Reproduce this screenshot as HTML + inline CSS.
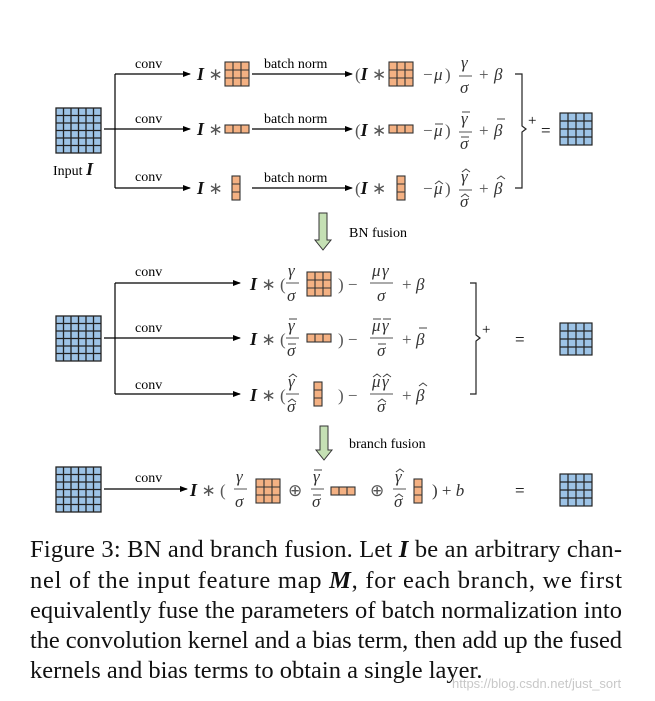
<!DOCTYPE html>
<html><head><meta charset="utf-8"><style>
html,body{margin:0;padding:0;background:#fff;}
svg{display:block;font-family:"Liberation Serif",serif;}
.t{font-size:14px;fill:#000}
.m{font-size:17px;fill:#333;font-style:italic}
.g{font-size:17px;fill:#555}
.b{font-size:18px;font-weight:bold;font-style:italic;fill:#111}
.c{font-size:24.5px;fill:#111}
.a{stroke:#444;stroke-width:1;fill:none}
</style></head><body>
<svg width="655" height="701" viewBox="0 0 655 701" xmlns="http://www.w3.org/2000/svg">
<defs>
<marker id="ar" markerWidth="8" markerHeight="8" refX="7" refY="4" orient="auto" markerUnits="userSpaceOnUse"><path d="M0,1 L8,4 L0,7 Z" fill="#000"/></marker>
<g id="g6"><rect x="0" y="0" width="45" height="45" fill="#9dc3e6" stroke="#222" stroke-width="1.3"/><path d="M7.5,0V45M15,0V45M22.5,0V45M30,0V45M37.5,0V45M0,7.5H45M0,15H45M0,22.5H45M0,30H45M0,37.5H45" stroke="#222" stroke-width="1.3"/></g>
<g id="g4"><rect x="0" y="0" width="32" height="32" fill="#9dc3e6" stroke="#222" stroke-width="1.2"/><path d="M8,0V32M16,0V32M24,0V32M0,8H32M0,16H32M0,24H32" stroke="#222" stroke-width="1.2"/></g>
<g id="k33"><rect x="0" y="0" width="24" height="24" fill="#f4b183" stroke="#333" stroke-width="1.1"/><path d="M8,0V24M16,0V24M0,8H24M0,16H24" stroke="#333" stroke-width="1.1"/></g>
<g id="k13"><rect x="0" y="0" width="24" height="8" fill="#f4b183" stroke="#333" stroke-width="1.1"/><path d="M8,0V8M16,0V8" stroke="#333" stroke-width="1.1"/></g>
<g id="k31"><rect x="0" y="0" width="8" height="24" fill="#f4b183" stroke="#333" stroke-width="1.1"/><path d="M0,8H8M0,16H8" stroke="#333" stroke-width="1.1"/></g>
</defs>

<!-- TOP SECTION -->
<use href="#g6" x="56" y="108"/>
<text class="t" x="53" y="175" font-size="15">Input <tspan class="b">I</tspan></text>
<g stroke="#000" stroke-width="1.2" fill="none">
<path d="M115,74V188"/>
<path d="M115,74H190" marker-end="url(#ar)"/>
<path d="M104,129H190" marker-end="url(#ar)"/>
<path d="M115,188H190" marker-end="url(#ar)"/>
<path d="M252,74H352" marker-end="url(#ar)"/>
<path d="M252,129H352" marker-end="url(#ar)"/>
<path d="M252,188H352" marker-end="url(#ar)"/>
</g>
<text class="t" x="135" y="68">conv</text>
<text class="t" x="135" y="123">conv</text>
<text class="t" x="135" y="181">conv</text>
<text class="t" x="264" y="68">batch norm</text>
<text class="t" x="264" y="123">batch norm</text>
<text class="t" x="264" y="182">batch norm</text>

<text class="b" x="197" y="80">I <tspan class="g" font-weight="normal" font-style="normal">∗</tspan></text>
<use href="#k33" x="225" y="62"/>
<text class="b" x="197" y="135">I <tspan class="g" font-weight="normal" font-style="normal">∗</tspan></text>
<use href="#k13" x="225" y="125"/>
<text class="b" x="197" y="194">I <tspan class="g" font-weight="normal" font-style="normal">∗</tspan></text>
<use href="#k31" x="232" y="176"/>

<!-- row1 formula -->
<text class="g" x="355" y="80">(<tspan class="b">I</tspan> ∗</text>
<use href="#k33" x="389" y="62"/>
<text class="g" x="423" y="80">−</text><text class="m" x="434" y="80">μ</text><text class="g" x="445" y="80">)</text>
<text class="m" x="461" y="68">γ</text><path d="M459,76H472" stroke="#555"/><text class="m" x="460" y="93">σ</text>
<text class="g" x="479" y="80">+</text><text class="m" x="494" y="80">β</text>
<!-- row2 -->
<text class="g" x="355" y="136">(<tspan class="b">I</tspan> ∗</text>
<use href="#k13" x="389" y="125"/>
<text class="g" x="423" y="136">−</text><text class="m" x="434" y="136">μ</text><text class="g" x="445" y="136">)</text>
<text class="m" x="461" y="124">γ</text><path d="M459,132H472" stroke="#555"/><text class="m" x="460" y="149">σ</text>
<text class="g" x="479" y="136">+</text><text class="m" x="494" y="136">β</text>
<path class="a" d="M435,124h8M462,112h8M461,137h8M497,119h8"/>
<!-- row3 -->
<text class="g" x="355" y="194">(<tspan class="b">I</tspan> ∗</text>
<use href="#k31" x="397" y="176"/>
<text class="g" x="423" y="194">−</text><text class="m" x="434" y="194">μ</text><text class="g" x="445" y="194">)</text>
<text class="m" x="461" y="182">γ</text><path d="M459,190H472" stroke="#555"/><text class="m" x="460" y="207">σ</text>
<text class="g" x="479" y="194">+</text><text class="m" x="494" y="194">β</text>
<path class="a" d="M435,184l4,-3l4,3M462,172l4,-3l4,3M461,197l4,-3l4,3M497,179l4,-3l4,3"/>
<path d="M515,74H522V126L526,129L522,132V188H515" fill="none" stroke="#222" stroke-width="1.2"/>
<text x="528" y="125" font-size="15" fill="#000">+</text>
<text x="541" y="136" font-size="17" fill="#000">=</text>
<use href="#g4" x="560" y="113"/>

<!-- green arrow 1 -->
<path d="M319,213H327V240H331L323,250L315,240H319Z" fill="#c5e0b4" stroke="#333" stroke-width="1"/>
<text class="t" x="349" y="237">BN fusion</text>

<!-- MIDDLE -->
<use href="#g6" x="56" y="316"/>
<g stroke="#000" stroke-width="1.2" fill="none">
<path d="M115,283V394"/>
<path d="M115,283H240" marker-end="url(#ar)"/>
<path d="M104,338H240" marker-end="url(#ar)"/>
<path d="M115,394H240" marker-end="url(#ar)"/>
</g>
<text class="t" x="135" y="276">conv</text>
<text class="t" x="135" y="332">conv</text>
<text class="t" x="135" y="389">conv</text>

<text class="b" x="250" y="290">I <tspan class="g" font-weight="normal" font-style="normal">∗ (</tspan></text>
<text class="m" x="288" y="276">γ</text><path d="M286,283H299" stroke="#555"/><text class="m" x="287" y="301">σ</text>
<use href="#k33" x="307" y="272"/>
<text class="g" x="338" y="290">) −</text>
<text class="m" x="372" y="276">μ</text><text class="m" x="382" y="276">γ</text><path d="M370,283H393" stroke="#555"/><text class="m" x="377" y="301">σ</text>
<text class="g" x="402" y="290">+</text><text class="m" x="416" y="290">β</text>

<text class="b" x="250" y="345">I <tspan class="g" font-weight="normal" font-style="normal">∗ (</tspan></text>
<text class="m" x="288" y="331">γ</text><path d="M286,338H299" stroke="#555"/><text class="m" x="287" y="356">σ</text>
<use href="#k13" x="307" y="334"/>
<text class="g" x="338" y="345">) −</text>
<text class="m" x="372" y="331">μ</text><text class="m" x="382" y="331">γ</text><path d="M370,338H393" stroke="#555"/><text class="m" x="377" y="356">σ</text>
<text class="g" x="402" y="345">+</text><text class="m" x="416" y="345">β</text>
<path class="a" d="M289,319h8M288,344h8M373,319h8M383,319h8M378,344h8M419,328h8"/>

<text class="b" x="250" y="401">I <tspan class="g" font-weight="normal" font-style="normal">∗ (</tspan></text>
<text class="m" x="288" y="387">γ</text><path d="M286,394H299" stroke="#555"/><text class="m" x="287" y="412">σ</text>
<use href="#k31" x="314" y="382"/>
<text class="g" x="338" y="401">) −</text>
<text class="m" x="372" y="387">μ</text><text class="m" x="382" y="387">γ</text><path d="M370,394H393" stroke="#555"/><text class="m" x="377" y="412">σ</text>
<text class="g" x="402" y="401">+</text><text class="m" x="416" y="401">β</text>
<path class="a" d="M289,377l4,-3l4,3M288,402l4,-3l4,3M373,377l4,-3l4,3M383,377l4,-3l4,3M378,402l4,-3l4,3M419,386l4,-3l4,3"/>

<path d="M470,283H476V335L480,338L476,341V394H470" fill="none" stroke="#222" stroke-width="1.2"/>
<text x="482" y="334" font-size="15" fill="#000">+</text>
<text x="515" y="345" font-size="17" fill="#000">=</text>
<use href="#g4" x="560" y="323"/>

<!-- green arrow 2 -->
<path d="M320,426H328V450H332L324,460L316,450H320Z" fill="#c5e0b4" stroke="#333" stroke-width="1"/>
<text class="t" x="349" y="448">branch fusion</text>

<!-- BOTTOM -->
<use href="#g6" x="56" y="467"/>
<path d="M104,489H187" stroke="#000" stroke-width="1.2" marker-end="url(#ar)"/>
<text class="t" x="135" y="482">conv</text>
<text class="b" x="190" y="496">I <tspan class="g" font-weight="normal" font-style="normal">∗ (</tspan></text>
<text class="m" x="236" y="482">γ</text><path d="M234,489H247" stroke="#555"/><text class="m" x="235" y="507">σ</text>
<use href="#k33" x="256" y="479"/>
<text class="g" x="288" y="496">⊕</text>
<text class="m" x="313" y="482">γ</text><path d="M311,489H324" stroke="#555"/><text class="m" x="312" y="507">σ</text>
<use href="#k13" x="331" y="487"/>
<text class="g" x="370" y="496">⊕</text>
<text class="m" x="395" y="482">γ</text><path d="M393,489H406" stroke="#555"/><text class="m" x="394" y="507">σ</text>
<use href="#k31" x="414" y="479"/>
<path class="a" d="M314,470h8M313,495h8M396,472l4,-3l4,3M395,497l4,-3l4,3"/>
<text class="m" x="432" y="496"><tspan font-style="normal">) + </tspan>b</text>
<text x="515" y="496" font-size="17" fill="#000">=</text>
<use href="#g4" x="560" y="474"/>

<!-- caption -->
<text class="c" x="30" y="557" textLength="592" lengthAdjust="spacing">Figure 3: BN and branch fusion. Let <tspan font-weight="bold" font-style="italic">I</tspan> be an arbitrary chan-</text>
<text class="c" x="30" y="588" textLength="592" lengthAdjust="spacing">nel of the input feature map <tspan font-weight="bold" font-style="italic">M</tspan>, for each branch, we first</text>
<text class="c" x="30" y="618" textLength="592" lengthAdjust="spacing">equivalently fuse the parameters of batch normalization into</text>
<text class="c" x="30" y="648" textLength="592" lengthAdjust="spacing">the convolution kernel and a bias term, then add up the fused</text>
<text class="c" x="30" y="678">kernels and bias terms to obtain a single layer.</text>
<text x="452" y="688" font-size="13" fill="#c8c8c8" font-family="Liberation Sans, sans-serif">https://blog.csdn.net/just_sort</text>
</svg>
</body></html>
